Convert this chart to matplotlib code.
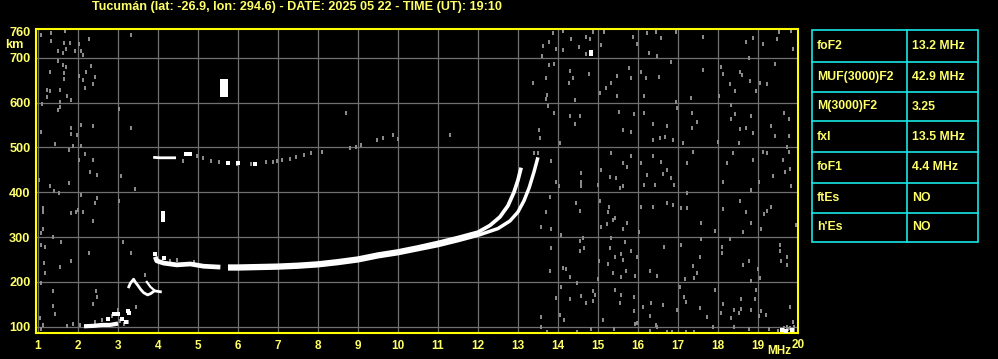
import numpy as np
import matplotlib
matplotlib.use("Agg")
from matplotlib import pyplot as plt
from matplotlib.patches import Rectangle
from matplotlib.lines import Line2D

plt.rcParams['font.family'] = ['Liberation Sans', 'DejaVu Sans']

################################################### data ###################################################

title = "Tucumán (lat: -26.9, lon: 294.6) - DATE: 2025 05 22 - TIME (UT): 19:10"

x_ticks = list(range(1, 21))
y_ticks = [100, 200, 300, 400, 500, 600, 700, 760]

# F2 trace, ordinary and extraordinary (MHz, km)
o_f = [5.75, 6.0, 6.5, 7.0, 7.5, 8.0, 8.5, 9.0, 9.5, 10.0, 10.5, 11.0, 11.5, 12.0, 12.3, 12.55, 12.75, 12.9, 13.0, 13.08]
o_h = [235, 235, 236, 237, 239, 242, 247, 253, 262, 269, 278, 288, 299, 311, 326, 345, 370, 400, 427, 455]
x_f = [5.75, 6.0, 6.5, 7.0, 7.5, 8.0, 8.5, 9.0, 9.5, 10.0, 10.5, 11.0, 11.5, 12.0, 12.5, 12.8, 13.0, 13.15, 13.28, 13.4, 13.5]
x_h = [229, 229, 230, 231, 233, 236, 241, 247, 256, 263, 272, 281, 292, 304, 319, 336, 356, 381, 410, 445, 478]

# F1 part
f1_f = [3.93, 3.97, 4.14, 4.47, 4.81, 5.14, 5.56]
f1_h = [256, 247, 242, 238, 240, 235, 233]

# low echoes (E region)
e_f = [2.15, 2.4, 2.6, 2.8, 3.0]
e_h = [101, 102, 104, 104, 107]
e_spots = [(3.0, 128), (3.1, 118), (3.25, 135), (3.28, 130), (3.2, 110), (2.89, 128), (2.74, 118)]

# V shaped echo near 3.5 MHz
v_f = [3.27, 3.31, 3.39, 3.43, 3.49, 3.57, 3.64, 3.74, 3.82, 3.91, 4.06]
v_h = [189, 197, 206, 200, 193, 183, 176, 171, 174, 180, 178]
v2_f = [3.72, 3.81, 3.9]
v2_h = [200, 189, 182]

# second hop
hop_f = [3.88, 4.06, 4.2, 4.36, 4.45]
hop_h = [478, 477, 477, 477, 477]
hop_white = [(4.7, 485), (4.8, 485), (6.0, 465), (6.43, 463), (5.75, 466)]
hop_gray = [(4.63, 470), (4.98, 481), (5.13, 477), (5.33, 470), (5.53, 468), (5.78, 465), (5.98, 463), (6.33, 463),
            (6.7, 467), (6.87, 467), (6.97, 469), (7.1, 471), (7.3, 474), (7.45, 478), (7.65, 483), (7.83, 487),
            (8.1, 490), (8.8, 499), (8.95, 502), (9.08, 505), (9.48, 517), (9.63, 521), (9.88, 528)]

# isolated strong echoes
white_spots = [(4.12, 353), (4.12, 345), (4.12, 338), (14.83, 714), (14.83, 709), (3.93, 262), (4.14, 253),
               (19.6, 93), (19.7, 91), (19.85, 93)]
block_f = [5.56, 5.76]
block_h = [613, 653]

# scattered noise
noise_left = [(1.07, 751), (1.32, 756), (1.68, 761), (1.32, 738), (1.49, 716), (1.62, 710), (1.71, 719), (1.71, 680),
              (1.66, 733), (1.79, 733), (2.02, 731), (1.93, 716), (2.07, 716), (2.12, 707), (2.28, 742), (3.32, 751),
              (1.49, 692), (1.62, 684), (1.29, 669), (1.64, 666), (1.66, 652), (2.02, 660), (2.21, 669), (2.32, 682),
              (2.43, 657), (2.12, 651), (2.37, 642), (2.18, 632), (1.22, 628), (1.29, 625), (1.54, 628), (1.72, 615),
              (1.82, 606), (1.22, 612), (1.54, 602), (1.54, 591), (1.49, 584), (1.1, 597), (3.02, 587), (2.07, 550),
              (1.82, 543), (2.37, 548), (1.07, 535), (1.82, 530), (1.97, 528), (3.32, 543), (1.43, 508), (1.87, 503),
              (2.07, 503), (1.77, 494), (2.18, 485), (2.03, 472), (2.37, 472), (2.29, 446), (2.47, 439), (3.07, 436),
              (3.43, 407), (1.29, 413), (1.39, 404), (1.52, 399), (1.78, 421), (1.02, 427), (1.12, 364), (1.12, 355),
              (1.82, 353), (1.99, 361), (2.12, 357), (2.07, 394), (2.47, 387), (2.43, 377), (3.02, 381),
              (1.82, 353), (1.96, 355), (2.37, 337), (1.12, 317), (1.07, 310), (1.37, 301), (1.57, 288), (1.07, 282),
              (1.18, 279), (1.82, 247), (2.27, 265), (3.12, 288), (3.32, 265), (1.14, 243), (1.54, 234), (1.18, 221),
              (1.07, 198), (1.37, 180), (2.46, 180), (2.47, 167), (2.37, 151), (1.37, 146), (1.43, 128), (1.04, 119),
              (1.87, 106), (1.72, 102), (2.04, 104), (3.68, 215), (2.99, 137), (3.46, 143), (1.12, 104), (1.07, 96),
              (2.43, 111), (2.6, 115), (2.85, 124), (3.06, 113), (3.24, 111), (3.16, 107), (4.14, 253), (4.47, 249),
              (4.3, 247), (4.9, 245), (8.7, 578), (11.3, 529), (10.0, 519)]

noise_right_top = [(13.88, 755), (14.13, 760), (14.88, 757), (15.14, 757), (16.23, 755), (16.44, 757), (16.94, 757),
                   (19.52, 757), (19.83, 759), (13.63, 727), (13.77, 735), (13.94, 720), (14.13, 718), (14.33, 742),
                   (14.52, 725), (14.69, 747), (14.79, 742), (15.08, 729), (15.88, 747), (15.98, 730), (16.58, 744),
                   (17.63, 747), (18.88, 745), (18.69, 735), (19.12, 730), (19.48, 742), (19.88, 720), (13.6, 705),
                   (14.69, 708), (16.27, 710), (16.48, 705), (18.77, 699), (13.77, 684), (13.89, 686), (14.29, 671),
                   (14.38, 656), (14.77, 663), (14.27, 643), (13.69, 654), (13.38, 645), (13.73, 617), (13.69, 608),
                   (15.19, 632), (15.33, 645), (15.48, 660), (15.78, 677), (15.83, 656), (16.08, 669), (16.19, 656),
                   (16.53, 658), (16.83, 690), (17.63, 673), (18.08, 680), (18.13, 663), (18.54, 668), (18.6, 662),
                   (18.79, 648), (18.94, 626), (19.23, 641), (19.43, 686), (19.06, 645), (18.31, 641), (18.43, 626),
                   (18.02, 616), (17.33, 611), (16.94, 601), (16.14, 616), (15.48, 616), (15.04, 621), (14.43, 606),
                   (13.74, 593), (13.89, 576), (14.29, 571), (14.43, 552), (14.54, 571), (15.52, 580), (15.89, 574),
                   (16.14, 576), (16.38, 552), (16.73, 549), (16.98, 589), (17.35, 576), (17.48, 556), (17.34, 543),
                   (18.33, 595), (18.33, 564), (18.43, 574), (18.83, 571), (18.54, 541), (18.69, 544), (18.88, 532),
                   (19.33, 549), (19.43, 526), (19.77, 564), (19.64, 578), (19.78, 526), (13.52, 539), (13.54, 522),
                   (14.04, 509), (15.63, 539), (15.83, 534), (16.38, 517), (16.54, 522), (16.68, 524), (16.88, 517),
                   (17.13, 511), (17.99, 513), (18.52, 509), (15.33, 487), (15.83, 480), (16.38, 480), (16.58, 467),
                   (17.38, 491), (18.38, 487), (18.88, 472), (19.13, 489), (19.23, 487), (19.63, 472), (19.77, 491),
                   (19.73, 500), (13.83, 470), (14.58, 442), (15.08, 450), (15.63, 465), (15.73, 457), (16.08, 465),
                   (16.73, 450), (16.83, 431), (17.23, 465), (18.23, 465), (19.38, 437), (19.68, 446), (19.79, 452),
                   (15.29, 435), (15.44, 433), (16.23, 439), (16.63, 440), (13.5, 487), (13.4, 487)]

noise_right_low = [(13.94, 424), (14.02, 413), (14.58, 422), (14.58, 413), (14.99, 416), (15.54, 409), (15.63, 413),
                   (16.14, 416), (16.43, 416), (16.89, 416), (18.13, 422), (18.83, 405), (19.02, 422), (19.83, 413),
                   (17.23, 399), (15.06, 381), (14.44, 377), (13.79, 390), (16.08, 368), (16.38, 368), (16.73, 377),
                   (16.88, 372), (17.08, 364), (17.23, 364), (18.13, 362), (18.54, 381), (18.69, 355), (19.23, 359),
                   (19.33, 368), (19.14, 352), (19.94, 327), (18.83, 331), (18.63, 312), (19.08, 317), (13.69, 355),
                   (14.54, 359), (15.24, 355), (15.27, 368), (15.43, 342), (15.38, 338), (15.73, 332), (15.08, 323),
                   (15.23, 329), (15.63, 317), (16.02, 312), (13.58, 323), (13.83, 317), (14.08, 305), (17.58, 332),
                   (17.93, 314), (18.29, 295), (14.63, 299), (14.54, 292), (14.64, 275), (14.54, 270), (13.83, 275),
                   (15.33, 299), (15.68, 288), (15.29, 275), (15.58, 262), (15.43, 255), (15.63, 250), (15.83, 270),
                   (15.98, 256), (15.03, 247), (15.24, 240), (15.38, 221), (15.58, 210), (15.71, 225), (15.93, 213),
                   (16.64, 279), (17.08, 282), (17.58, 295), (18.09, 279), (18.09, 264), (17.54, 255), (17.38, 235),
                   (17.48, 221), (17.41, 208), (17.18, 206), (16.48, 213), (16.29, 225), (18.77, 247), (18.63, 238),
                   (18.99, 228), (19.04, 208), (18.83, 203), (19.54, 282), (19.73, 255), (19.58, 247), (19.73, 238),
                   (19.54, 270), (13.79, 225), (14.13, 232), (14.19, 228), (14.29, 210), (14.99, 206), (14.08, 188),
                   (14.48, 198), (14.88, 180), (14.58, 169), (14.93, 171), (13.96, 163), (14.29, 161), (14.04, 126),
                   (13.58, 122), (14.14, 115), (14.69, 154), (14.88, 158), (15.43, 183), (15.58, 171), (15.54, 154),
                   (15.13, 115), (15.91, 166), (16.13, 143), (16.33, 154), (16.63, 148), (16.29, 124), (15.89, 134),
                   (15.93, 106), (16.48, 100), (16.98, 137), (17.16, 167), (17.19, 156), (17.04, 188), (17.54, 141),
                   (17.93, 183), (17.73, 122), (18.08, 131), (18.13, 151), (18.33, 119), (18.39, 137), (18.52, 130),
                   (18.58, 139), (18.58, 161), (18.83, 137), (18.93, 161), (18.96, 182), (19.02, 124), (19.19, 126),
                   (19.08, 134), (19.79, 145), (19.88, 111), (19.73, 100), (19.27, 94), (18.77, 94), (18.39, 100),
                   (17.88, 100), (17.41, 89), (17.21, 89), (16.85, 89), (16.73, 89), (16.31, 91), (15.98, 108),
                   (14.83, 94), (14.48, 89), (13.73, 89), (13.58, 100), (15.39, 96), (16.46, 104), (19.5, 90),
                   (19.75, 95), (19.8, 98), (19.9, 100), (19.9, 93), (19.65, 97)]

# table of parameters
param_names = ["foF2", "MUF(3000)F2", "M(3000)F2", "fxI", "foF1", "ftEs", "h'Es"]
param_values = ["13.2 MHz", "42.9 MHz", "3.25", "13.5 MHz", "4.4 MHz", "NO", "NO"]

################################################################################################################################

yellow = "#ffff00"
text_yellow = "#ffff6a"
grid_gray = "#707070"
noise_gray = "#8a8a8a"
cyan = "#19e6e6"

W, H = 998, 359
fig = plt.figure(figsize=(W / 100, H / 100), dpi=100)
fig.patch.set_facecolor("black")

ax = fig.add_axes([36 / W, 1 - 333.3 / H, (798.3 - 36) / W, (333.3 - 29.3) / H])
ax.set_facecolor("black")
ax.set_xlim(0.95, 20.01)
ax.set_ylim(85.3, 763.8)

for f in range(1, 20):
    ax.axvline(f, color=grid_gray, lw=0.9, zorder=1)
for h in range(100, 800, 100):
    ax.axhline(h, color=grid_gray, lw=0.9, zorder=1)

# noise, small vertical dashes of 2x3 px
for group in [noise_left, noise_right_top, noise_right_low, hop_gray]:
    g = np.array(group)
    ax.scatter(g[:, 0], g[:, 1], marker=[(-0.6, -1), (0.6, -1), (0.6, 1), (-0.6, 1)], s=5, lw=0,
               color=noise_gray, zorder=2)

# echoes
ax.plot(o_f, o_h, color="white", lw=2.7, solid_capstyle="butt", zorder=3)
ax.plot(x_f, x_h, color="white", lw=2.5, solid_capstyle="butt", zorder=3)
ax.plot(f1_f, f1_h, color="white", lw=3.4, solid_capstyle="butt", zorder=3)
ax.plot(e_f, e_h, color="white", lw=3.0, solid_capstyle="butt", zorder=3)
ax.plot(v_f, v_h, color="white", lw=2.0, zorder=3)
ax.plot(v2_f, v2_h, color="white", lw=1.6, zorder=3)
ax.plot(hop_f, hop_h, color="white", lw=2.0, solid_capstyle="butt", zorder=3)
for group in [hop_white, white_spots, e_spots]:
    g = np.array(group)
    ax.plot(g[:, 0], g[:, 1], ls="none", marker="s", ms=2.4, mew=0, color="white", zorder=3)
ax.fill_between(block_f, block_h[0], block_h[1], color="white", lw=0, zorder=3)

for s in ax.spines.values():
    s.set_color(yellow)
    s.set_linewidth(1.5)

ax.set_xticks(x_ticks)
ax.set_xticklabels([str(v) if v < 20 else "" for v in x_ticks])
ax.set_yticks(y_ticks)
ax.set_yticklabels([str(v) for v in y_ticks])
ax.tick_params(length=0, colors=text_yellow, labelsize=8.5, pad=5)
for lbl in ax.get_xticklabels() + ax.get_yticklabels():
    lbl.set_fontweight("bold")
for lbl in ax.get_yticklabels():
    lbl.set_fontsize(9.2)
ax.tick_params(axis="y", pad=4)

fig.text(805 / W, 1 - 344.5 / H, "20", color=text_yellow, fontsize=8.5, fontweight="bold", ha="right", va="center")
fig.text(767 / W, 1 - 351.5 / H, "MHz", color=text_yellow, fontsize=8.5, fontweight="bold", ha="left", va="center")
fig.text(5 / W, 1 - 45 / H, "km", color=text_yellow, fontsize=9.2, fontweight="bold", ha="left", va="center")
fig.text(92 / W, 1 - 7 / H, title, color=text_yellow, fontsize=9.1, fontweight="bold", ha="left", va="center")

# parameter table
tab_l, tab_r, tab_mid = 812.3, 977.7, 907.3
row_y = [30.3, 61.7, 91.7, 121.3, 151.7, 182.7, 212.7, 242.3]
fig.patches.append(Rectangle((tab_l / W, 1 - row_y[-1] / H), (tab_r - tab_l) / W, (row_y[-1] - row_y[0]) / H,
                             transform=fig.transFigure, fill=False, edgecolor=cyan, lw=1.2))
fig.lines.append(Line2D([tab_mid / W] * 2, [1 - row_y[0] / H, 1 - row_y[-1] / H], transform=fig.transFigure,
                        color=cyan, lw=1.2))
for y in row_y[1:-1]:
    fig.lines.append(Line2D([tab_l / W, tab_r / W], [1 - y / H] * 2, transform=fig.transFigure, color=cyan, lw=1.2))
for i in range(len(param_names)):
    yc = 1 - (row_y[i] + row_y[i + 1]) / 2 / H
    fig.text(817 / W, yc, param_names[i], color=text_yellow, fontsize=8.8, fontweight="bold", ha="left", va="center")
    fig.text(912 / W, yc, param_values[i], color=text_yellow, fontsize=8.8, fontweight="bold", ha="left", va="center")

plt.savefig("out.png", dpi=100, facecolor="black")
